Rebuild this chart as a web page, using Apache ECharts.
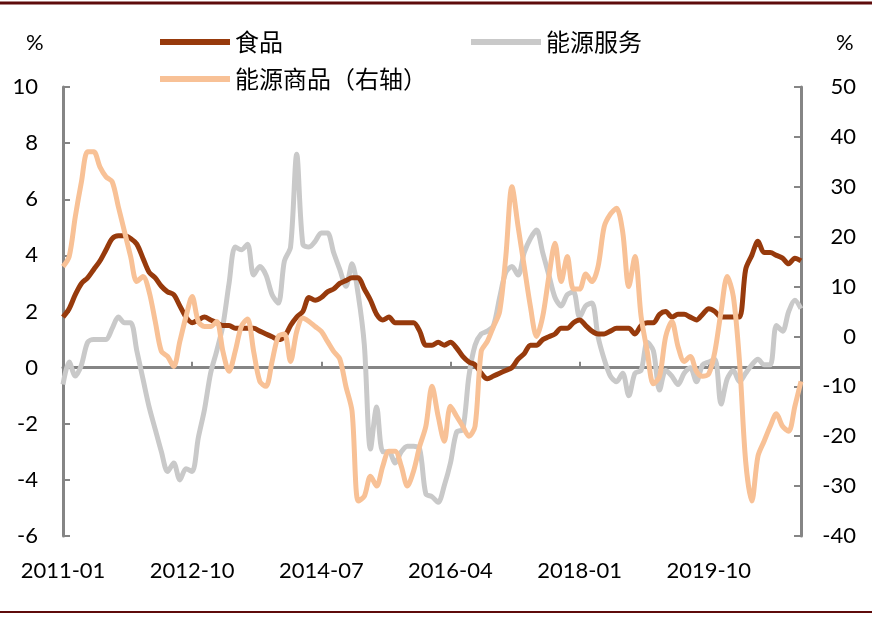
<!DOCTYPE html>
<html>
<head>
<meta charset="utf-8">
<script src="https://cdn.jsdelivr.net/npm/echarts@6/dist/echarts.min.js"></script>
<style>
  html, body { margin: 0; padding: 0; background: #fff; }
  #main { width: 872px; height: 617px; }
</style>
</head>
<body>
<div id="main"></div>
<script>
// monthly, 2011-01 .. 2021-01
const months = [];
for (let y = 2011; y <= 2021; y++) {
  for (let m = 1; m <= 12; m++) {
    if (y === 2021 && m > 1) break;
    months.push(y + '-' + (m < 10 ? '0' + m : m));
  }
}

const food = [
  1.8, 2.1, 2.6, 3.0, 3.2, 3.5, 3.8, 4.2, 4.6, 4.7,
  4.7, 4.6, 4.4, 3.9, 3.4, 3.2, 2.9, 2.7, 2.6, 2.2,
  1.8, 1.6, 1.7, 1.8, 1.7, 1.6, 1.5, 1.5, 1.4, 1.4,
  1.4, 1.4, 1.3, 1.2, 1.1, 1.0, 1.1, 1.5, 1.8, 2.0,
  2.5, 2.4, 2.5, 2.7, 2.8, 3.0, 3.1, 3.2, 3.2, 2.8,
  2.4, 1.9, 1.7, 1.8, 1.6, 1.6, 1.6, 1.6, 1.3, 0.8,
  0.8, 0.9, 0.8, 0.9, 0.7, 0.4, 0.2, 0.1, -0.2, -0.4,
  -0.3, -0.2, -0.1, 0.0, 0.3, 0.5, 0.8, 0.8, 1.0, 1.1,
  1.2, 1.4, 1.4, 1.6, 1.7, 1.5, 1.3, 1.2, 1.2, 1.3,
  1.4, 1.4, 1.4, 1.2, 1.5, 1.6, 1.6, 1.9, 2.0, 1.8,
  1.9, 1.9, 1.8, 1.7, 1.9, 2.1, 2.0, 1.8, 1.8, 1.8,
  1.8, 3.5, 4.0, 4.5, 4.1, 4.1, 4.0, 3.9, 3.7, 3.9,
  3.8
];

const energyServices = [
  -0.6, 0.2, -0.3, 0.1, 0.9, 1.0, 1.0, 1.0, 1.4, 1.8,
  1.6, 1.6, 0.6, -0.4, -1.4, -2.2, -3.0, -3.7, -3.4, -4.0,
  -3.6, -3.7, -2.5, -1.5, -0.2, 0.6, 1.5, 3.0, 4.3, 4.2,
  4.4, 3.3, 3.6, 3.3, 2.6, 2.3, 3.8, 4.3, 7.6, 4.4,
  4.3, 4.5, 4.8, 4.8, 4.1, 3.5, 2.9, 3.7, 2.6, 0.8,
  -2.9, -1.4, -3.0, -3.0, -3.4, -3.0, -2.8, -2.8, -2.9, -4.5,
  -4.6, -4.8, -4.2, -3.4, -2.3, -2.2, -0.3, 0.8, 1.2, 1.3,
  1.5, 2.5, 3.4, 3.6, 3.3, 4.1, 4.6, 4.9, 4.1, 3.3,
  2.5, 2.2, 2.6, 2.7, 1.8, 2.2, 2.3, 1.1, 0.3, -0.3,
  -0.5, -0.2, -1.0, -0.2, -0.1, 0.9, 0.6, -0.8, -0.1, -0.3,
  -0.6, -0.2, 0.0, -0.5, 0.1, 0.2, 0.3, -1.3, -0.4, -0.1,
  -0.5, -0.2, 0.1, 0.3, 0.1, 0.1, 1.5, 1.3, 2.0, 2.4,
  2.1
];

const energyGoods = [
  14, 16, 24, 31, 37, 37, 34, 32, 31, 26,
  21, 16, 11, 12, 9, 3, -3, -4, -6, -1,
  4, 8, 3, 2, 2, 3, -3, -7, -3, 2,
  3.5, -3, -9, -10, -5, 0, 0.5, -5, 1, 3.7,
  3, 2, 1, -1, -3, -4.5, -10, -15, -33, -32,
  -28, -30, -26, -23, -23, -26, -30, -27, -22, -18,
  -10, -16, -21, -14, -16, -18, -20, -18, -3, -1,
  2, 5, 16, 30, 22, 14, 6, 0, 4, 12,
  18.7, 11, 16, 9.5, 9.5, 12.5, 11, 14, 22, 24.5,
  25.7, 21, 10, 16, 4, -3, -9.5, -8, 0, 3,
  -2, -5, -4, -7, -8, -7.5, -3, 5, 12, 8,
  -5, -25, -33, -24, -21, -18, -15.5, -18, -19, -14,
  -9
];

const leftTicks = { min: -6, max: 10, interval: 2 };
const rightTicks = { min: -40, max: 50, interval: 10 };

const names = ['食品', '能源服务', '能源商品（右轴）'];
const colors = ['#973a0c', '#c9c9c9', '#f8c196'];

const chart = echarts.init(document.getElementById('main'));

const axisGray = '#858585';
const labelFont = { fontFamily: 'Lato', fontSize: 22, color: '#000' };
const legendText = { fontFamily: 'Noto Sans CJK SC', fontSize: 24, color: '#000' };

const legendBase = {
  itemWidth: 70,
  itemHeight: 6,
  icon: 'rect',
  itemGap: 0,
  textStyle: legendText
};

const option = {
  animation: false,
  backgroundColor: '#fff',
  color: colors,
  grid: { left: 63, right: 71, top: 87, bottom: 81, containLabel: false },
  legend: [
    Object.assign({ data: [names[0]], left: 155, top: 25 }, legendBase),
    Object.assign({ data: [names[1]], left: 466, top: 25 }, legendBase),
    Object.assign({ data: [names[2]], left: 155, top: 62 }, legendBase)
  ],
  graphic: [
    { type: 'line', shape: { x1: 0, y1: 3, x2: 872, y2: 3 }, style: { stroke: '#5e0b0b', lineWidth: 3 } },
    { type: 'line', shape: { x1: 0, y1: 612, x2: 872, y2: 612 }, style: { stroke: '#5e0b0b', lineWidth: 2 } },
    { type: 'text', left: 26, top: 32, style: { text: '%', font: '22px Lato', fill: '#000' } },
    { type: 'text', left: 836, top: 32, style: { text: '%', font: '22px Lato', fill: '#000' } }
  ],
  xAxis: [
    {
      type: 'category',
      data: months,
      boundaryGap: false,
      axisLine: { onZero: true, lineStyle: { color: axisGray, width: 3 } },
      axisTick: { show: true, inside: true, interval: 20, length: 6, lineStyle: { color: axisGray, width: 2 } },
      axisLabel: { show: false },
      splitLine: { show: false }
    },
    {
      type: 'category',
      data: months,
      boundaryGap: false,
      position: 'bottom',
      axisLine: { show: false, onZero: false },
      axisTick: { show: false },
      axisLabel: Object.assign({ interval: 20, margin: 24 }, labelFont),
      splitLine: { show: false }
    }
  ],
  yAxis: [
    {
      type: 'value',
      min: leftTicks.min, max: leftTicks.max, interval: leftTicks.interval,
      axisLine: { show: true, lineStyle: { color: axisGray, width: 3 } },
      axisTick: { show: true, inside: true, length: 7, lineStyle: { color: axisGray, width: 2 } },
      axisLabel: Object.assign({ margin: 25 }, labelFont),
      splitLine: { show: false }
    },
    {
      type: 'value',
      position: 'right',
      min: rightTicks.min, max: rightTicks.max, interval: rightTicks.interval,
      axisLine: { show: true, lineStyle: { color: axisGray, width: 3 } },
      axisTick: { show: true, inside: true, length: 7, lineStyle: { color: axisGray, width: 2 } },
      axisLabel: Object.assign({ margin: 55, align: 'right' }, labelFont),
      splitLine: { show: false }
    }
  ],
  series: [
    {
      name: names[1], type: 'line', data: energyServices, yAxisIndex: 0,
      smooth: 0.3, showSymbol: false, symbol: 'none',
      lineStyle: { width: 5, color: colors[1] }, itemStyle: { color: colors[1] }, z: 2
    },
    {
      name: names[0], type: 'line', data: food, yAxisIndex: 0,
      smooth: 0.3, showSymbol: false, symbol: 'none',
      lineStyle: { width: 5, color: colors[0] }, itemStyle: { color: colors[0] }, z: 3
    },
    {
      name: names[2], type: 'line', data: energyGoods, yAxisIndex: 1,
      smooth: 0.3, showSymbol: false, symbol: 'none',
      lineStyle: { width: 5, color: colors[2] }, itemStyle: { color: colors[2] }, z: 4
    }
  ]
};

chart.setOption(option);
</script>
</body>
</html>
